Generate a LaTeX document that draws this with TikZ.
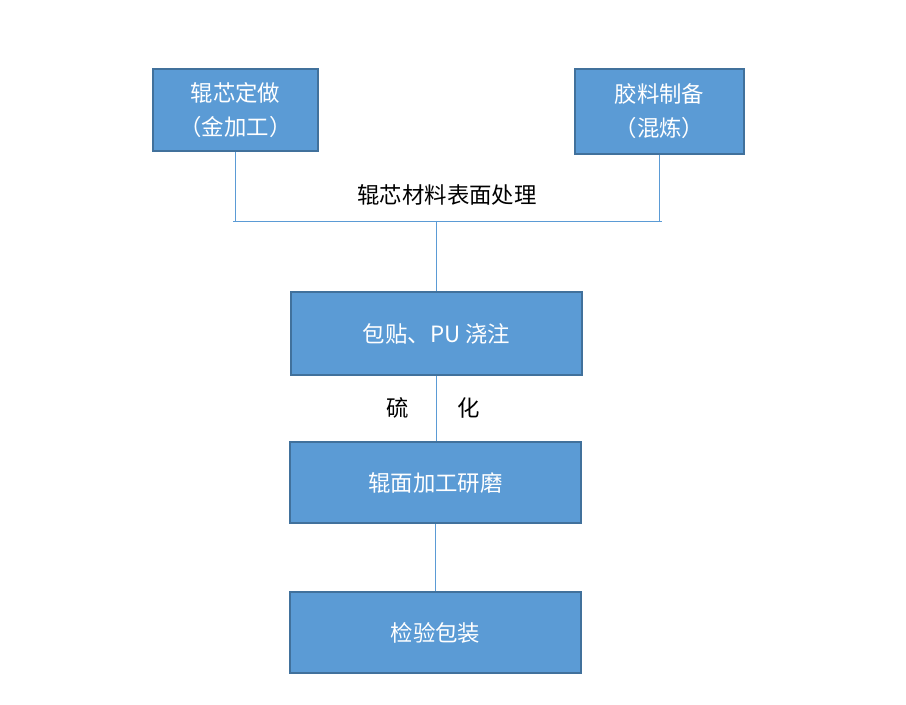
\documentclass[tikz,border=0pt]{standalone}
\usepackage{fontspec}
\newfontfamily\cjk{Noto Sans CJK SC}
\begin{document}
\begin{tikzpicture}[x=0.75pt,y=-0.75pt,
  box/.style={draw=boxborder,line width=1.6pt,fill=boxfill,text=white,
    font=\cjk\fontsize{16.8}{25.5}\selectfont,align=center,inner sep=0pt},
  conn/.style={draw=linecol,line width=0.7pt},
  lab/.style={font=\cjk\fontsize{16.8}{20}\selectfont,text=black,inner sep=0pt}]
\definecolor{boxfill}{HTML}{5B9BD5}
\definecolor{boxborder}{HTML}{41719C}
\definecolor{linecol}{HTML}{5B9BD5}
\useasboundingbox (0,0) rectangle (906,705);
\node[box,minimum width=165*0.75pt,minimum height=82*0.75pt] (b1) at (235.5,110) {辊芯定做\\（金加工）};
\node[box,minimum width=169*0.75pt,minimum height=85*0.75pt] (b2) at (659.5,111.5) {胶料制备\\（混炼）};
\node[box,minimum width=291*0.75pt,minimum height=83*0.75pt] (b3) at (436.5,333.5) {包贴、PU 浇注};
\node[box,minimum width=291*0.75pt,minimum height=81*0.75pt] (b4) at (435.5,482.5) {辊面加工研磨};
\node[box,minimum width=291*0.75pt,minimum height=81*0.75pt] (b5) at (435.5,632.5) {检验包装};
\coordinate (jl) at (233,221);
\coordinate (jr) at (662,221);
\coordinate (jm) at (436,221);
\draw[conn] (jl) -- (jr);
\draw[conn] (b1.south) -- (b1.south |- jm);
\draw[conn] (b2.south) -- (b2.south |- jm);
\draw[conn] (jm) -- (jm |- b3.north);
\draw[conn] (b3.south) -- (b3.south |- b4.north);
\draw[conn] (b4.south) -- (b5.north);
\node[lab] (t1) at (447,195) {辊芯材料表面处理};
\node[lab] (t2) at (398,408) {硫};
\node[lab] (t3) at (469,408) {化};
\end{tikzpicture}
\end{document}
